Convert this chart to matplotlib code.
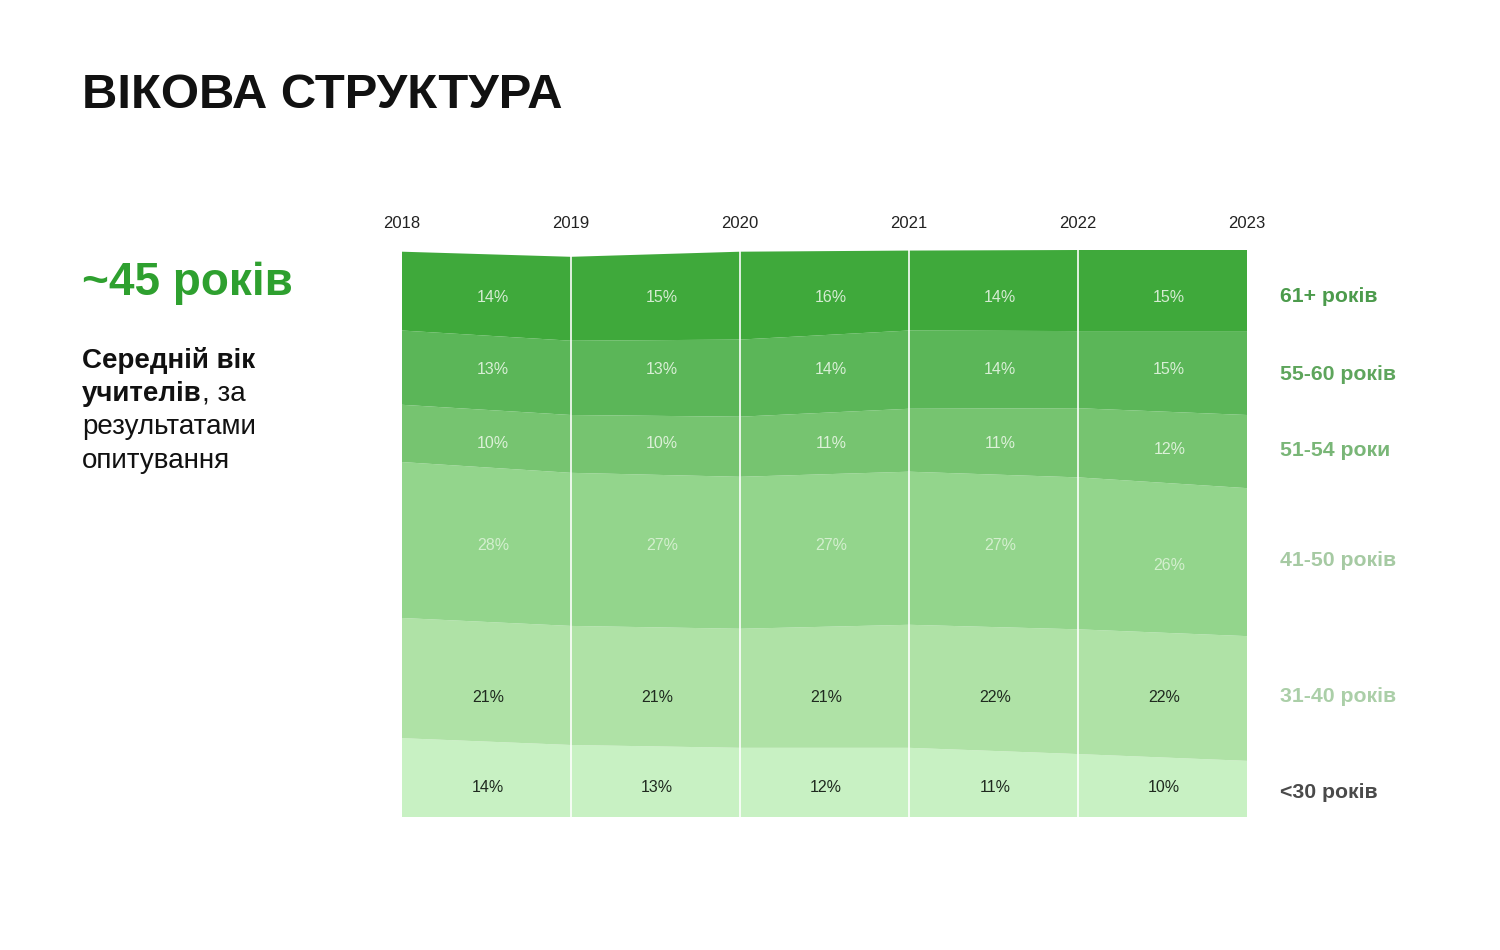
import matplotlib
matplotlib.use("Agg")
import matplotlib.pyplot as plt
import matplotlib.transforms as mtrans
import numpy as np

# ---------------- data ----------------
years = [2018, 2019, 2020, 2021, 2022, 2023]
groups = ["<30 років", "31-40 років", "41-50 років", "51-54 роки", "55-60 років", "61+ років"]
# band shares (%) at each year boundary, bottom to top
share_lt30 = [13.9, 12.7, 12.2, 12.2, 11.1, 9.9]
share_31_40 = [21.2, 21.0, 21.0, 21.7, 22.0, 22.0]
share_41_50 = [27.5, 27.0, 26.8, 27.0, 26.8, 26.1]
share_51_54 = [10.1, 10.2, 10.6, 11.1, 12.2, 12.9]
share_55_60 = [13.1, 13.1, 13.6, 13.8, 13.6, 14.8]
share_61p = [13.9, 14.8, 15.5, 14.1, 14.3, 15.0]
# printed labels for each interval (2018-19 ... 2022-23)
lab_lt30 = [14, 13, 12, 11, 10]
lab_31_40 = [21, 21, 21, 22, 22]
lab_41_50 = [28, 27, 27, 27, 26]
lab_51_54 = [10, 10, 11, 11, 12]
lab_55_60 = [13, 13, 14, 14, 15]
lab_61p = [14, 15, 16, 14, 15]

title = "ВІКОВА СТРУКТУРА"
big_value = "~45 років"

# ---------------- style ----------------
FONT = ["Liberation Sans", "DejaVu Sans"]
plt.rcParams["font.family"] = FONT

fills = ["#c8f1c3", "#afe2a6", "#93d58c", "#76c470", "#5bb658", "#3fa93b"]
label_colors = ["#1f2a1f", "#1f2a1f", "#d3efce", "#dcf1d8", "#d8efd5", "#d5ecd2"]
side_colors = ["#4a4a4a", "#abcfa8", "#a6caa3", "#79b677", "#5ea55c", "#4c9b4c"]
# label vertical positions (pixels from top), per band and interval
label_ypx = [[788] * 5, [697] * 5, [546, 546, 546, 546, 565],
             [443, 443, 443, 443, 450], [370] * 5, [297] * 5]
label_dx = [0.01, 0.01, 0.04, 0.04, 0.04, 0.04]

W, H = 1500, 950
fig = plt.figure(figsize=(15, 9.5), dpi=100)
fig.patch.set_facecolor("white")
ax = fig.add_axes([402 / W, 133 / H, 845 / W, 567 / H])

series = [share_lt30, share_31_40, share_41_50, share_51_54, share_55_60, share_61p]
labels = [lab_lt30, lab_31_40, lab_41_50, lab_51_54, lab_55_60, lab_61p]
x = np.array(years, dtype=float)
ax.stackplot(x, *series, colors=fills, linewidth=0)

ax.set_xlim(years[0], years[-1])
ax.set_ylim(0, 100)
ax.axis("off")

# vertical white separators
for yr in years[1:-1]:
    ax.axvline(yr, color="white", lw=1.3, alpha=0.9)

# year labels on top
for yr in years:
    ax.text(yr, 1.046, str(yr), transform=ax.get_xaxis_transform(),
            ha="center", va="center", fontsize=12, color="#222222")

# percentage labels in the middle of each interval
blend = mtrans.blended_transform_factory(ax.transData, fig.transFigure)
for i in range(len(series)):
    for j in range(len(years) - 1):
        xm = (x[j] + x[j + 1]) / 2 + label_dx[i]
        ax.text(xm, 1 - label_ypx[i][j] / H, f"{labels[i][j]}%", transform=blend,
                ha="center", va="center", fontsize=11.5, color=label_colors[i])

# side group labels
side_y = [792, 696, 560, 451, 375, 296]
for g, yy, c in zip(groups, side_y, side_colors):
    fig.text(1280 / W, 1 - yy / H, g, ha="left", va="center",
             fontsize=15.3, fontweight="bold", color=c)

# title and left text block
fig.text(82 / W, 1 - 96 / H, title, ha="left", va="center",
         fontsize=35.3, fontweight="bold", color="#111111")
fig.text(82 / W, 1 - 283 / H, big_value, ha="left", va="center",
         fontsize=33, fontweight="bold", color="#2ea02f")

fig.canvas.draw()
renderer = fig.canvas.get_renderer()

def put(pieces, xpx, ypx):
    xcur = xpx
    for txt, weight in pieces:
        t = fig.text(xcur / W, 1 - ypx / H, txt, ha="left", va="center",
                     fontsize=20, fontweight=weight, color="#111111")
        bb = t.get_window_extent(renderer=renderer)
        xcur = bb.x1

put([("Середній вік", "bold")], 82, 360)
put([("учителів", "bold"), (", за", "normal")], 82, 394)
put([("результатами", "normal")], 82, 427)
put([("опитування", "normal")], 82, 461)

fig.savefig("out.png", dpi=100, facecolor="white")
